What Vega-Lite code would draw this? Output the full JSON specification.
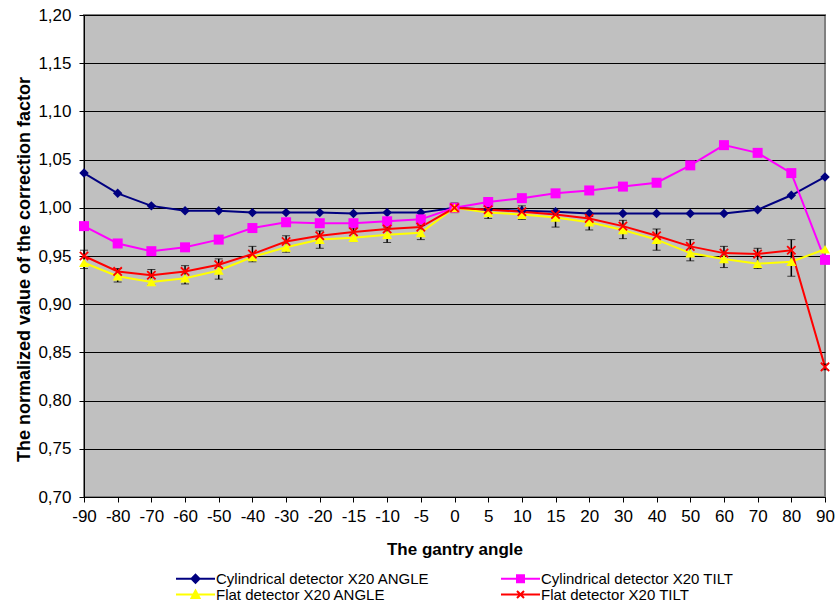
{
  "$schema": "https://vega.github.io/schema/vega-lite/v6.json",
  "width": 741,
  "height": 482,
  "autosize": "none",
  "padding": {"left": 84, "top": 15, "right": 12, "bottom": 106},
  "background": "white",
  "config": {
    "font": "Liberation Sans",
    "view": {"fill": "#C0C0C0", "stroke": "#808080", "strokeWidth": 2}
  },
  "datasets": {
    "main": [
      {"angle": -90, "series": "Cylindrical detector X20 ANGLE", "value": 1.036},
      {"angle": -80, "series": "Cylindrical detector X20 ANGLE", "value": 1.015},
      {"angle": -70, "series": "Cylindrical detector X20 ANGLE", "value": 1.002},
      {"angle": -60, "series": "Cylindrical detector X20 ANGLE", "value": 0.997},
      {"angle": -50, "series": "Cylindrical detector X20 ANGLE", "value": 0.997},
      {"angle": -40, "series": "Cylindrical detector X20 ANGLE", "value": 0.995},
      {"angle": -30, "series": "Cylindrical detector X20 ANGLE", "value": 0.995},
      {"angle": -20, "series": "Cylindrical detector X20 ANGLE", "value": 0.995},
      {"angle": -15, "series": "Cylindrical detector X20 ANGLE", "value": 0.994},
      {"angle": -10, "series": "Cylindrical detector X20 ANGLE", "value": 0.995},
      {"angle": -5, "series": "Cylindrical detector X20 ANGLE", "value": 0.995},
      {"angle": 0, "series": "Cylindrical detector X20 ANGLE", "value": 1.0},
      {"angle": 5, "series": "Cylindrical detector X20 ANGLE", "value": 0.998},
      {"angle": 10, "series": "Cylindrical detector X20 ANGLE", "value": 0.997},
      {"angle": 15, "series": "Cylindrical detector X20 ANGLE", "value": 0.996},
      {"angle": 20, "series": "Cylindrical detector X20 ANGLE", "value": 0.994},
      {"angle": 30, "series": "Cylindrical detector X20 ANGLE", "value": 0.994},
      {"angle": 40, "series": "Cylindrical detector X20 ANGLE", "value": 0.994},
      {"angle": 50, "series": "Cylindrical detector X20 ANGLE", "value": 0.994},
      {"angle": 60, "series": "Cylindrical detector X20 ANGLE", "value": 0.994},
      {"angle": 70, "series": "Cylindrical detector X20 ANGLE", "value": 0.998},
      {"angle": 80, "series": "Cylindrical detector X20 ANGLE", "value": 1.013},
      {"angle": 90, "series": "Cylindrical detector X20 ANGLE", "value": 1.032},
      {"angle": -90, "series": "Cylindrical detector X20 TILT", "value": 0.981},
      {"angle": -80, "series": "Cylindrical detector X20 TILT", "value": 0.963},
      {"angle": -70, "series": "Cylindrical detector X20 TILT", "value": 0.955},
      {"angle": -60, "series": "Cylindrical detector X20 TILT", "value": 0.959},
      {"angle": -50, "series": "Cylindrical detector X20 TILT", "value": 0.967},
      {"angle": -40, "series": "Cylindrical detector X20 TILT", "value": 0.979},
      {"angle": -30, "series": "Cylindrical detector X20 TILT", "value": 0.985},
      {"angle": -20, "series": "Cylindrical detector X20 TILT", "value": 0.984},
      {"angle": -15, "series": "Cylindrical detector X20 TILT", "value": 0.984},
      {"angle": -10, "series": "Cylindrical detector X20 TILT", "value": 0.986},
      {"angle": -5, "series": "Cylindrical detector X20 TILT", "value": 0.988},
      {"angle": 0, "series": "Cylindrical detector X20 TILT", "value": 1.0},
      {"angle": 5, "series": "Cylindrical detector X20 TILT", "value": 1.006},
      {"angle": 10, "series": "Cylindrical detector X20 TILT", "value": 1.01},
      {"angle": 15, "series": "Cylindrical detector X20 TILT", "value": 1.015},
      {"angle": 20, "series": "Cylindrical detector X20 TILT", "value": 1.018},
      {"angle": 30, "series": "Cylindrical detector X20 TILT", "value": 1.022},
      {"angle": 40, "series": "Cylindrical detector X20 TILT", "value": 1.026},
      {"angle": 50, "series": "Cylindrical detector X20 TILT", "value": 1.044},
      {"angle": 60, "series": "Cylindrical detector X20 TILT", "value": 1.065},
      {"angle": 70, "series": "Cylindrical detector X20 TILT", "value": 1.057},
      {"angle": 80, "series": "Cylindrical detector X20 TILT", "value": 1.036},
      {"angle": 90, "series": "Cylindrical detector X20 TILT", "value": 0.946},
      {"angle": -90, "series": "Flat detector X20 ANGLE", "value": 0.943},
      {"angle": -80, "series": "Flat detector X20 ANGLE", "value": 0.929},
      {"angle": -70, "series": "Flat detector X20 ANGLE", "value": 0.923},
      {"angle": -60, "series": "Flat detector X20 ANGLE", "value": 0.927},
      {"angle": -50, "series": "Flat detector X20 ANGLE", "value": 0.935},
      {"angle": -40, "series": "Flat detector X20 ANGLE", "value": 0.949},
      {"angle": -30, "series": "Flat detector X20 ANGLE", "value": 0.959},
      {"angle": -20, "series": "Flat detector X20 ANGLE", "value": 0.967},
      {"angle": -15, "series": "Flat detector X20 ANGLE", "value": 0.969},
      {"angle": -10, "series": "Flat detector X20 ANGLE", "value": 0.972},
      {"angle": -5, "series": "Flat detector X20 ANGLE", "value": 0.974},
      {"angle": 0, "series": "Flat detector X20 ANGLE", "value": 1.0},
      {"angle": 5, "series": "Flat detector X20 ANGLE", "value": 0.995},
      {"angle": 10, "series": "Flat detector X20 ANGLE", "value": 0.993},
      {"angle": 15, "series": "Flat detector X20 ANGLE", "value": 0.99},
      {"angle": 20, "series": "Flat detector X20 ANGLE", "value": 0.985},
      {"angle": 30, "series": "Flat detector X20 ANGLE", "value": 0.977},
      {"angle": 40, "series": "Flat detector X20 ANGLE", "value": 0.967},
      {"angle": 50, "series": "Flat detector X20 ANGLE", "value": 0.953},
      {"angle": 60, "series": "Flat detector X20 ANGLE", "value": 0.947},
      {"angle": 70, "series": "Flat detector X20 ANGLE", "value": 0.942},
      {"angle": 80, "series": "Flat detector X20 ANGLE", "value": 0.944},
      {"angle": 90, "series": "Flat detector X20 ANGLE", "value": 0.957},
      {"angle": -90, "series": "Flat detector X20 TILT", "value": 0.95},
      {"angle": -80, "series": "Flat detector X20 TILT", "value": 0.934},
      {"angle": -70, "series": "Flat detector X20 TILT", "value": 0.93},
      {"angle": -60, "series": "Flat detector X20 TILT", "value": 0.934},
      {"angle": -50, "series": "Flat detector X20 TILT", "value": 0.941},
      {"angle": -40, "series": "Flat detector X20 TILT", "value": 0.952},
      {"angle": -30, "series": "Flat detector X20 TILT", "value": 0.965},
      {"angle": -20, "series": "Flat detector X20 TILT", "value": 0.971},
      {"angle": -15, "series": "Flat detector X20 TILT", "value": 0.975},
      {"angle": -10, "series": "Flat detector X20 TILT", "value": 0.978},
      {"angle": -5, "series": "Flat detector X20 TILT", "value": 0.98},
      {"angle": 0, "series": "Flat detector X20 TILT", "value": 1.0},
      {"angle": 5, "series": "Flat detector X20 TILT", "value": 0.998},
      {"angle": 10, "series": "Flat detector X20 TILT", "value": 0.996},
      {"angle": 15, "series": "Flat detector X20 TILT", "value": 0.993},
      {"angle": 20, "series": "Flat detector X20 TILT", "value": 0.989},
      {"angle": 30, "series": "Flat detector X20 TILT", "value": 0.981},
      {"angle": 40, "series": "Flat detector X20 TILT", "value": 0.971},
      {"angle": 50, "series": "Flat detector X20 TILT", "value": 0.96},
      {"angle": 60, "series": "Flat detector X20 TILT", "value": 0.953},
      {"angle": 70, "series": "Flat detector X20 TILT", "value": 0.952},
      {"angle": 80, "series": "Flat detector X20 TILT", "value": 0.956},
      {"angle": 90, "series": "Flat detector X20 TILT", "value": 0.835}
    ],
    "errs": [
      {"angle": -90, "lo": 0.937, "hi": 0.956},
      {"angle": -80, "lo": 0.923, "hi": 0.937},
      {"angle": -70, "lo": 0.92, "hi": 0.936},
      {"angle": -60, "lo": 0.921, "hi": 0.94},
      {"angle": -50, "lo": 0.926, "hi": 0.947},
      {"angle": -40, "lo": 0.944, "hi": 0.96},
      {"angle": -30, "lo": 0.954, "hi": 0.971},
      {"angle": -20, "lo": 0.958, "hi": 0.976},
      {"angle": -15, "lo": 0.965, "hi": 0.979},
      {"angle": -10, "lo": 0.964, "hi": 0.98},
      {"angle": -5, "lo": 0.967, "hi": 0.982},
      {"angle": 0, "lo": 0.995, "hi": 1.005},
      {"angle": 5, "lo": 0.989, "hi": 0.999},
      {"angle": 10, "lo": 0.988, "hi": 1.002},
      {"angle": 15, "lo": 0.98, "hi": 0.999},
      {"angle": 20, "lo": 0.977, "hi": 0.991},
      {"angle": 30, "lo": 0.968, "hi": 0.987},
      {"angle": 40, "lo": 0.956, "hi": 0.978},
      {"angle": 50, "lo": 0.945, "hi": 0.967},
      {"angle": 60, "lo": 0.938, "hi": 0.96},
      {"angle": 70, "lo": 0.937, "hi": 0.958},
      {"angle": 80, "lo": 0.929, "hi": 0.967},
      {"angle": 90, "lo": 0.832, "hi": 0.838}
    ]
  },
  "encoding": {
    "x": {
      "field": "angle",
      "type": "ordinal",
      "scale": {"type": "point", "padding": 0, "domain": [-90, -80, -70, -60, -50, -40, -30, -20, -15, -10, -5, 0, 5, 10, 15, 20, 30, 40, 50, 60, 70, 80, 90]},
      "axis": {
        "title": "The gantry angle",
        "titleFontSize": 17,
        "titleFontWeight": "bold",
        "titleColor": "black",
        "titlePadding": 17,
        "labelFontSize": 17,
        "labelColor": "black",
        "labelAngle": 0,
        "labelPadding": 6,
        "tickSize": 5,
        "tickColor": "black",
        "domainColor": "black",
        "grid": false
      }
    }
  },
  "layer": [
    {
      "data": {"name": "main"},
      "mark": {"type": "line", "strokeWidth": 2},
      "encoding": {
        "y": {
          "field": "value",
          "type": "quantitative",
          "title": "The normalized value of the correction factor",
          "scale": {"domain": [0.7, 1.2], "nice": false, "zero": false},
          "axis": {
            "titleFontSize": 18,
            "titleFontWeight": "bold",
            "titleColor": "black",
            "titlePadding": 4,
            "titleY": 254,
            "values": [0.7, 0.725, 0.75, 0.775, 0.8, 0.825, 0.85, 0.875, 0.9, 0.925, 0.95, 0.975, 1.0, 1.025, 1.05, 1.075, 1.1, 1.125, 1.15, 1.175, 1.2],
            "labelExpr": "round(datum.value*1000) % 50 === 0 ? replace(format(datum.value, '.2f'), '.', ',') : ''",
            "labelFontSize": 17,
            "labelColor": "black",
            "labelPadding": 8,
            "tickSize": 5,
            "tickColor": "black",
            "domainColor": "black",
            "grid": true,
            "gridColor": {"condition": {"test": "round(datum.value*1000) % 50 === 0", "value": "#000000"}, "value": "#cbcbcb"},
            "gridOpacity": 1
          }
        },
        "color": {
          "field": "series",
          "type": "nominal",
          "scale": {
            "domain": ["Cylindrical detector X20 ANGLE", "Cylindrical detector X20 TILT", "Flat detector X20 ANGLE", "Flat detector X20 TILT"],
            "range": ["#000080", "#FF00FF", "#FFFF00", "#FF0000"]
          },
          "legend": {
            "title": null,
            "orient": "none",
            "legendX": 90,
            "legendY": 556,
            "direction": "horizontal",
            "columns": 2,
            "columnPadding": 67,
            "rowPadding": -4,
            "padding": 0,
            "labelFontSize": 15,
            "labelColor": "black",
            "labelOffset": 13,
            "symbolSize": 100,
            "symbolOffset": 14,
            "symbolStrokeWidth": 2,
            "symbolType": "M-3.9,0H3.9",
            "labelLimit": 400,
            "encode": {
              "symbols": {
                "update": {
                  "shape": {"signal": "datum.value === 'Cylindrical detector X20 ANGLE' ? 'M-3.9,0H3.9M0,-0.8L0.8,0L0,0.8L-0.8,0Z' : datum.value === 'Cylindrical detector X20 TILT' ? 'M-3.9,0H3.9M-0.7,-0.7H0.7V0.7H-0.7Z' : datum.value === 'Flat detector X20 ANGLE' ? 'M-3.9,0H3.9M0,-0.8L0.8,0.7H-0.8Z' : 'M-3.9,0H3.9M-0.7,-0.7L0.7,0.7M-0.7,0.7L0.7,-0.7'"},
                  "fill": {"signal": "scale('color', datum.value)"},
                  "fillOpacity": {"value": 1}
                }
              }
            }
          }
        }
      }
    },
    {
      "data": {"name": "errs"},
      "mark": {"type": "errorbar", "ticks": {"size": 8, "color": "black", "strokeWidth": 1.5}, "rule": {"color": "black", "strokeWidth": 1.5}},
      "encoding": {
        "y": {"field": "lo", "type": "quantitative", "title": "The normalized value of the correction factor"},
        "y2": {"field": "hi"}
      }
    },
    {
      "data": {"name": "main"},
      "transform": [{"filter": "datum.series === 'Cylindrical detector X20 ANGLE'"}],
      "mark": {"type": "point", "shape": "diamond", "filled": true, "size": 90, "opacity": 1, "color": "#000080"},
      "encoding": {"y": {"field": "value", "type": "quantitative", "title": "The normalized value of the correction factor"}}
    },
    {
      "data": {"name": "main"},
      "transform": [{"filter": "datum.series === 'Cylindrical detector X20 TILT'"}],
      "mark": {"type": "point", "shape": "square", "filled": true, "size": 100, "opacity": 1, "color": "#FF00FF"},
      "encoding": {"y": {"field": "value", "type": "quantitative", "title": "The normalized value of the correction factor"}}
    },
    {
      "data": {"name": "main"},
      "transform": [{"filter": "datum.series === 'Flat detector X20 ANGLE'"}],
      "mark": {"type": "point", "shape": "triangle-up", "filled": true, "size": 100, "opacity": 1, "color": "#FFFF00"},
      "encoding": {"y": {"field": "value", "type": "quantitative", "title": "The normalized value of the correction factor"}}
    },
    {
      "data": {"name": "main"},
      "transform": [{"filter": "datum.series === 'Flat detector X20 TILT'"}],
      "mark": {"type": "point", "shape": "M-1,-1L1,1M-1,1L1,-1", "filled": false, "size": 70, "opacity": 1, "strokeWidth": 1.8, "color": "#FF0000"},
      "encoding": {"y": {"field": "value", "type": "quantitative", "title": "The normalized value of the correction factor"}}
    }
  ]
}
